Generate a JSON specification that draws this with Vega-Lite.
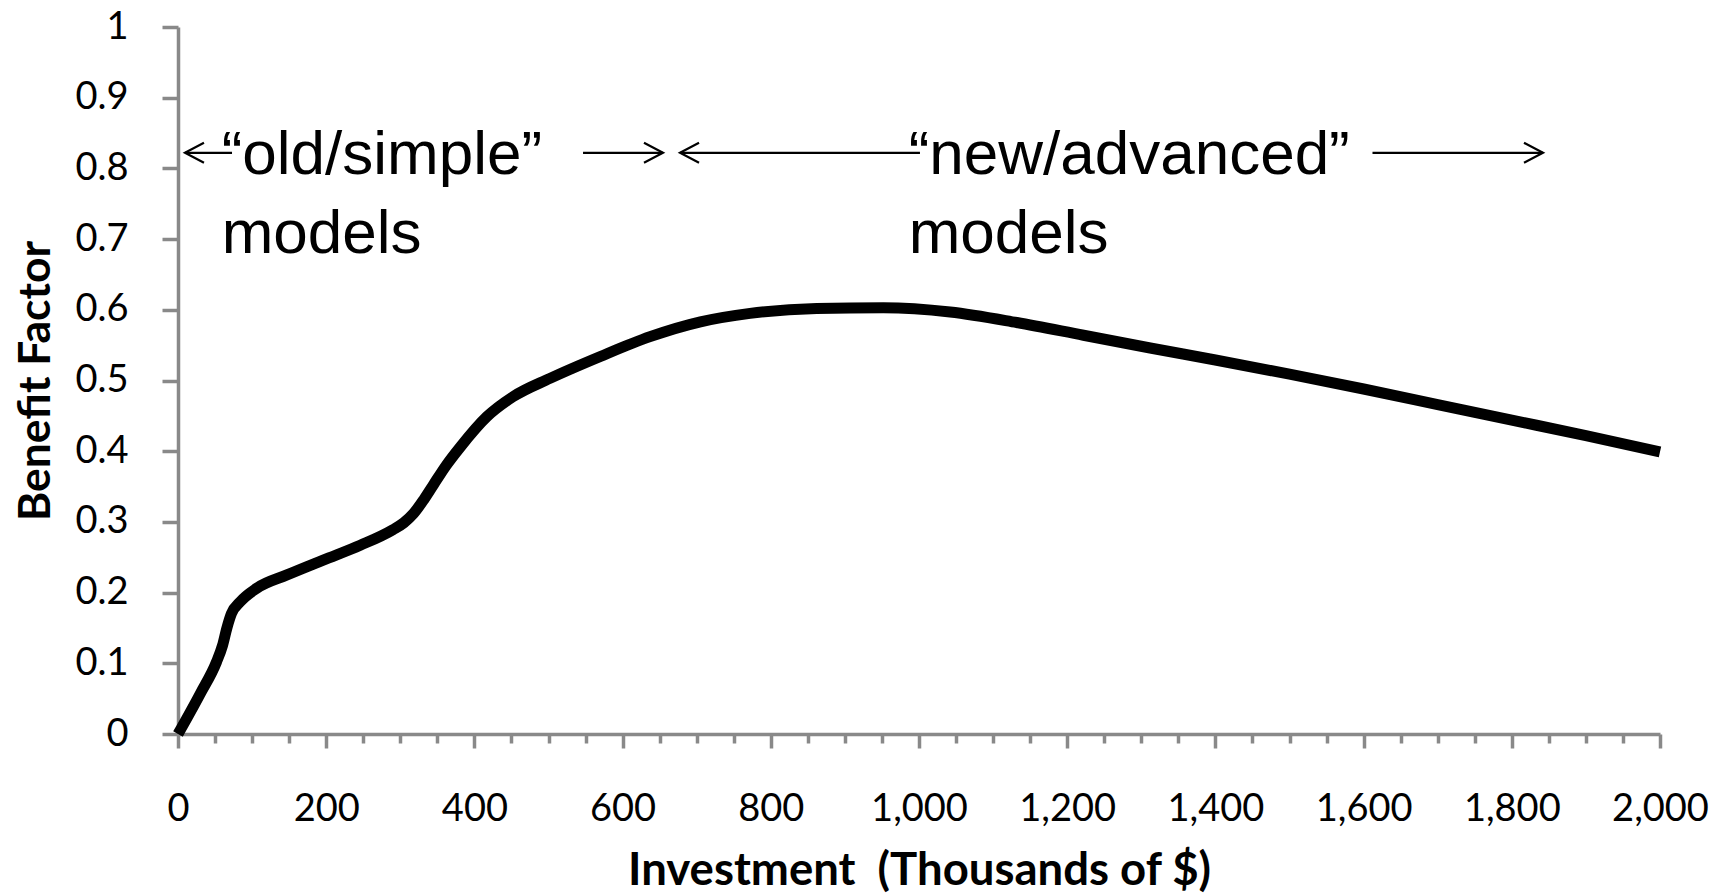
{
  "$schema": "https://vega.github.io/schema/vega-lite/v6.json",
  "width": 1482,
  "height": 707,
  "autosize": {"type": "none"},
  "padding": {"left": 178, "top": 27, "right": 62, "bottom": 159},
  "background": "white",
  "config": {"view": {"stroke": null}, "axis": {"grid": false}},
  "datasets": {
    "curve": [
      {"investment": 0, "benefit": 0.0},
      {"investment": 30, "benefit": 0.057},
      {"investment": 52, "benefit": 0.102},
      {"investment": 60, "benefit": 0.125},
      {"investment": 66, "benefit": 0.15},
      {"investment": 72, "benefit": 0.17},
      {"investment": 84, "benefit": 0.187},
      {"investment": 106, "benefit": 0.206},
      {"investment": 147, "benefit": 0.225},
      {"investment": 196, "benefit": 0.246},
      {"investment": 246, "benefit": 0.267},
      {"investment": 290, "benefit": 0.289},
      {"investment": 305, "benefit": 0.299},
      {"investment": 318, "benefit": 0.312},
      {"investment": 332, "benefit": 0.332},
      {"investment": 345, "benefit": 0.353},
      {"investment": 362, "benefit": 0.38},
      {"investment": 381, "benefit": 0.406},
      {"investment": 417, "benefit": 0.449},
      {"investment": 452, "benefit": 0.477},
      {"investment": 502, "benefit": 0.503},
      {"investment": 570, "benefit": 0.534},
      {"investment": 637, "benefit": 0.562},
      {"investment": 705, "benefit": 0.583},
      {"investment": 772, "benefit": 0.595},
      {"investment": 862, "benefit": 0.602},
      {"investment": 952, "benefit": 0.603},
      {"investment": 1042, "benefit": 0.597},
      {"investment": 1132, "benefit": 0.582},
      {"investment": 1222, "benefit": 0.564},
      {"investment": 1312, "benefit": 0.546},
      {"investment": 1400, "benefit": 0.529},
      {"investment": 1500, "benefit": 0.509},
      {"investment": 1600, "benefit": 0.488},
      {"investment": 1700, "benefit": 0.466},
      {"investment": 1800, "benefit": 0.444},
      {"investment": 1900, "benefit": 0.422},
      {"investment": 2000, "benefit": 0.399}
    ],
    "arrows": [
      {"start": 9.4, "end": 72.9, "tip": 9.4, "level": 0.822, "dir": "left"},
      {"start": 546.6, "end": 654.5, "tip": 654.5, "level": 0.822, "dir": "right"},
      {"start": 677.5, "end": 1001.3, "tip": 677.5, "level": 0.822, "dir": "left"},
      {"start": 1612, "end": 1842.1, "tip": 1842.1, "level": 0.822, "dir": "right"}
    ],
    "labels": [
      {"label": "“old/simple”", "x": 59, "y": 0.792},
      {"label": "models", "x": 59, "y": 0.68},
      {"label": "“new/advanced”", "x": 986, "y": 0.792},
      {"label": "models", "x": 986, "y": 0.68}
    ]
  },
  "layer": [
    {
      "data": {"name": "curve"},
      "mark": {"type": "line", "color": "black", "strokeWidth": 11, "interpolate": "monotone", "strokeCap": "butt"},
      "encoding": {
        "x": {
          "field": "investment", "type": "quantitative",
          "scale": {"domain": [0, 2000], "nice": false, "zero": false},
          "axis": {
            "orient": "bottom",
            "values": [0, 200, 400, 600, 800, 1000, 1200, 1400, 1600, 1800, 2000],
            "format": ",.0f",
            "tickSize": 14, "tickWidth": 3.5, "tickColor": "#898989",
            "domainColor": "#898989", "domainWidth": 3.5,
            "labelFont": "Lato", "labelFontSize": 38, "labelColor": "black",
            "labelPadding": 72, "labelBaseline": "alphabetic",
            "labelFlush": false, "labelOverlap": false,
            "title": "Investment\u00a0 (Thousands of $)",
            "titleFont": "Lato", "titleFontWeight": "bold", "titleFontSize": 45.5, "titleColor": "black",
            "titleX": 741, "titleY": 150, "titleBaseline": "alphabetic", "titleAlign": "center"
          }
        },
        "y": {
          "field": "benefit", "type": "quantitative",
          "scale": {"domain": [0, 1], "nice": false},
          "axis": {
            "orient": "left",
            "values": [0, 0.1, 0.2, 0.3, 0.4, 0.5, 0.6, 0.7, 0.8, 0.9, 1],
            "format": ".1~f",
            "tickSize": 16, "tickWidth": 3.5, "tickColor": "#898989",
            "domainColor": "#898989", "domainWidth": 3.5,
            "labelFont": "Lato", "labelFontSize": 38, "labelColor": "black",
            "labelPadding": 34, "labelFlush": false, "labelOverlap": false,
            "title": "Benefit Factor",
            "titleFont": "Lato", "titleFontWeight": "bold", "titleFontSize": 44.5, "titleColor": "black",
            "titleAngle": -90, "titleX": -129, "titleY": 353.5, "titleBaseline": "alphabetic", "titleAlign": "center"
          }
        }
      }
    },
    {
      "data": {"name": "arrows"},
      "mark": {"type": "rule", "color": "black", "strokeWidth": 2.2},
      "encoding": {
        "x": {
          "field": "start", "type": "quantitative",
          "axis": {
            "orient": "bottom",
            "values": [50, 100, 150, 250, 300, 350, 450, 500, 550, 650, 700, 750, 850, 900, 950, 1050, 1100, 1150, 1250, 1300, 1350, 1450, 1500, 1550, 1650, 1700, 1750, 1850, 1900, 1950],
            "tickSize": 9, "tickWidth": 3.5, "tickColor": "#898989",
            "domain": false, "labels": false, "title": null
          }
        },
        "x2": {"field": "end"},
        "y": {"field": "level", "type": "quantitative"}
      }
    },
    {
      "data": {"name": "arrows"},
      "mark": {"type": "point", "filled": false, "stroke": "black", "strokeWidth": 2.2, "size": 400, "opacity": 1},
      "encoding": {
        "x": {"field": "tip", "type": "quantitative", "axis": null},
        "y": {"field": "level", "type": "quantitative"},
        "shape": {
          "field": "dir", "type": "nominal", "legend": null,
          "scale": {"domain": ["left", "right"], "range": ["M1.9,-1L0,0L1.9,1", "M-1.9,-1L0,0L-1.9,1"]}
        }
      }
    },
    {
      "data": {"name": "labels"},
      "mark": {"type": "text", "font": "Liberation Sans", "fontSize": 62, "color": "black", "align": "left", "baseline": "alphabetic"},
      "encoding": {
        "x": {"field": "x", "type": "quantitative", "axis": null},
        "y": {"field": "y", "type": "quantitative"},
        "text": {"field": "label", "type": "nominal"}
      }
    }
  ],
  "resolve": {"axis": {"x": "independent"}}
}
